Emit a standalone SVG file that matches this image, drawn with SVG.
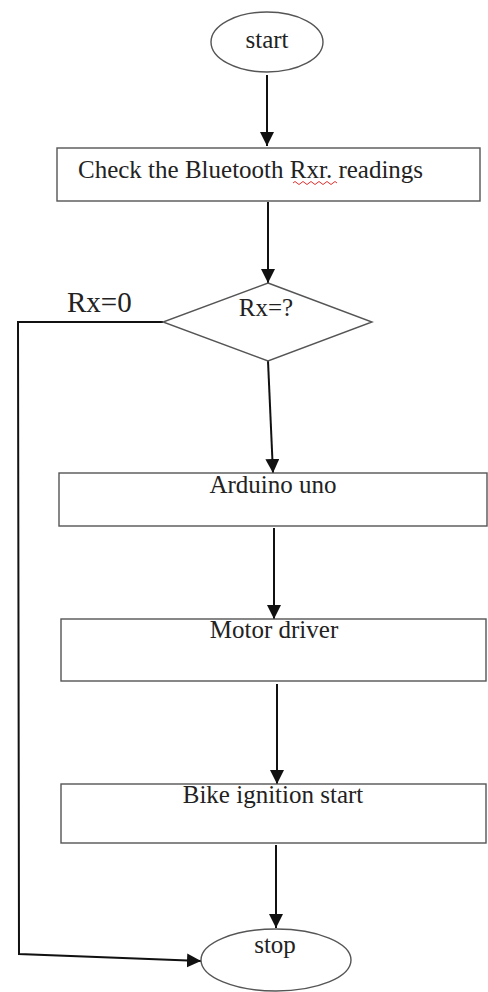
<svg xmlns="http://www.w3.org/2000/svg" width="488" height="992" viewBox="0 0 488 992">
<style>
.shape{fill:#fff;stroke:#555;stroke-width:1.4}
.line{fill:none;stroke:#111;stroke-width:2}
.lbl{font-family:"Liberation Serif","Times New Roman",serif;font-size:25px;fill:#222}
.mid{text-anchor:middle}
</style>
<defs>
<marker id="ah" markerUnits="userSpaceOnUse" markerWidth="14" markerHeight="16" viewBox="0 0 14 16" refX="14" refY="7" orient="auto">
<path d="M0,0 L14,7 L0,14 Z" fill="#111"/>
</marker>
</defs>
<rect width="488" height="992" fill="#fff"/>
<g id="connectors">
<line class="line" x1="267" y1="75" x2="267" y2="146" marker-end="url(#ah)"/>
<line class="line" x1="268" y1="202" x2="268" y2="283" marker-end="url(#ah)"/>
<line class="line" x1="268" y1="361" x2="273" y2="473" marker-end="url(#ah)"/>
<line class="line" x1="274" y1="528" x2="274" y2="619" marker-end="url(#ah)"/>
<line class="line" x1="277" y1="684" x2="277" y2="784" marker-end="url(#ah)"/>
<line class="line" x1="276" y1="845" x2="276" y2="928" marker-end="url(#ah)"/>
<polyline class="line" points="163,322 18,322 19,954 201,961" stroke-width="1.6" marker-end="url(#ah)"/>
<text id="label-rx0" class="lbl" x="67" y="312" style="font-size:29px">Rx=0</text>
</g>
<g id="start">
<ellipse class="shape" cx="267" cy="42" rx="56" ry="30"/>
<text class="lbl mid" x="267" y="48">start</text>
</g>
<g id="check">
<rect class="shape" x="57" y="148" width="423" height="53"/>
<text class="lbl" x="78" y="178">Check the Bluetooth Rxr. readings</text>
<path d="M293,183 q2,-3 4,0 t4,0 t4,0 t4,0 t4,0 t4,0 t4,0 t4,0 t4,0 t4,0 t4,0" fill="none" stroke="#e03030" stroke-width="1"/>
</g>
<g id="decision">
<polygon class="shape" points="268,283 372,322 268,361 163,322"/>
<text class="lbl mid" x="266" y="316">Rx=?</text>
</g>
<g id="arduino">
<rect class="shape" x="59" y="473" width="428" height="53"/>
<text class="lbl mid" x="273" y="493">Arduino uno</text>
</g>
<g id="motor">
<rect class="shape" x="61" y="619" width="425" height="62"/>
<text class="lbl mid" x="274" y="638">Motor driver</text>
</g>
<g id="ignition">
<rect class="shape" x="61" y="784" width="425" height="59"/>
<text class="lbl mid" x="273" y="803">Bike ignition start</text>
</g>
<g id="stop">
<ellipse class="shape" cx="276" cy="960" rx="75" ry="31"/>
<text class="lbl mid" x="275" y="953">stop</text>
</g>
</svg>
